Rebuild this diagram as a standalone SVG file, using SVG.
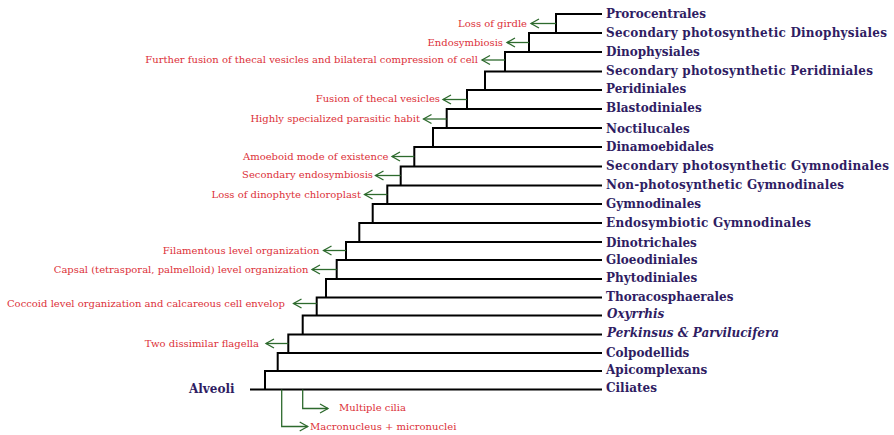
<svg xmlns="http://www.w3.org/2000/svg" width="894" height="435" viewBox="0 0 894 435">
<style>
.tx{font-family:"DejaVu Serif","Liberation Serif",serif;font-weight:bold;font-size:12px;fill:#2f1d63}
.it{font-style:italic}
.an{font-family:"DejaVu Serif","Liberation Serif",serif;font-size:10px;fill:#dc3038}
.tree{fill:none;stroke:#000;stroke-width:2}
.ar{fill:none;stroke:#2d6a2d;stroke-width:1.3;marker-end:url(#ah)}
</style>
<defs>
<marker id="ah" markerUnits="userSpaceOnUse" viewBox="-10 -6 12 12" refX="0" refY="0" markerWidth="12" markerHeight="12" orient="auto">
<path d="M-8,-4.5 L0,0 L-8,4.5" fill="none" stroke="#2d6a2d" stroke-width="1.3"/>
</marker>
</defs>
<rect width="894" height="435" fill="#fff"/>
<g id="connectors">
<path class="tree" d="M602 14H556V33 M602 33H529V52 M602 52H505V71.5 M602 71.5H485V90 M602 90H467V109 M602 109H446.7V128 M602 128H433V147 M602 147H414.3V166.5 M602 166.5H400.7V185.5 M602 185.5H387.3V204 M602 204H372.7V223 M602 223H359.3V242 M602 242H346V260 M602 260H336.7V279 M602 279H326V297.5 M602 297.5H316.7V315.5 M602 315.5H302.7V334.5 M602 334.5H288.3V353 M602 353H277.7V371 M602 371H265V389.5 M602 389.5H250"/>
</g>
<g id="annotations">
<path class="ar" d="M556 23.5H531"/><text class="an" x="527" y="26.5" text-anchor="end">Loss of girdle</text>
<path class="ar" d="M529 42.5H507"/><text class="an" x="503" y="45.5" text-anchor="end">Endosymbiosis</text>
<path class="ar" d="M505 60H482"/><text class="an" x="478" y="63" text-anchor="end">Further fusion of thecal vesicles and bilateral compression of cell</text>
<path class="ar" d="M467 99.5H443"/><text class="an" x="440" y="102" text-anchor="end">Fusion of thecal vesicles</text>
<path class="ar" d="M446.7 119H423.5"/><text class="an" x="420" y="122" text-anchor="end">Highly specialized parasitic habit</text>
<path class="ar" d="M414.3 156.5H392"/><text class="an" x="388.5" y="159.5" text-anchor="end">Amoeboid mode of existence</text>
<path class="ar" d="M400.7 175.5H375.5"/><text class="an" x="373" y="178" text-anchor="end">Secondary endosymbiosis</text>
<path class="ar" d="M387.3 194.5H364.5"/><text class="an" x="361" y="197.5" text-anchor="end">Loss of dinophyte chloroplast</text>
<path class="ar" d="M346 250.5H323.5"/><text class="an" x="319.5" y="253.5" text-anchor="end">Filamentous level organization</text>
<path class="ar" d="M336.7 269.5H312"/><text class="an" x="308.5" y="272.5" text-anchor="end">Capsal (tetrasporal, palmelloid) level organization</text>
<path class="ar" d="M316.7 303.5H293.5"/><text class="an" x="285" y="306.5" text-anchor="end">Coccoid level organization and calcareous cell envelop</text>
<path class="ar" d="M288.3 343.5H266"/><text class="an" x="259" y="346.5" text-anchor="end">Two dissimilar flagella</text>
<path class="ar" d="M302.7 389.5V408.5H328"/><text class="an" x="339" y="411">Multiple cilia</text>
<path class="ar" d="M281.7 389.5V426.5H307.7"/><text class="an" x="310" y="430">Macronucleus + micronuclei</text>
</g>
<g id="n-alveoli"><text class="tx" x="189" y="393">Alveoli</text></g>
<g id="n1"><text class="tx" x="606" y="17.5">Prorocentrales</text></g>
<g id="n2"><text class="tx" x="606" y="36.7" textLength="281" lengthAdjust="spacing">Secondary photosynthetic Dinophysiales</text></g>
<g id="n3"><text class="tx" x="606" y="56">Dinophysiales</text></g>
<g id="n4"><text class="tx" x="606" y="75" textLength="267" lengthAdjust="spacing">Secondary photosynthetic Peridiniales</text></g>
<g id="n5"><text class="tx" x="606" y="93.3">Peridiniales</text></g>
<g id="n6"><text class="tx" x="606" y="112.3">Blastodiniales</text></g>
<g id="n7"><text class="tx" x="606" y="133">Noctilucales</text></g>
<g id="n8"><text class="tx" x="606" y="150.7">Dinamoebidales</text></g>
<g id="n9"><text class="tx" x="606" y="170" textLength="283" lengthAdjust="spacing">Secondary photosynthetic Gymnodinales</text></g>
<g id="n10"><text class="tx" x="606" y="189" textLength="238" lengthAdjust="spacing">Non-photosynthetic Gymnodinales</text></g>
<g id="n11"><text class="tx" x="606" y="207.5">Gymnodinales</text></g>
<g id="n12"><text class="tx" x="606" y="226.7" textLength="205" lengthAdjust="spacing">Endosymbiotic Gymnodinales</text></g>
<g id="n13"><text class="tx" x="606" y="246.5">Dinotrichales</text></g>
<g id="n14"><text class="tx" x="606" y="264">Gloeodiniales</text></g>
<g id="n15"><text class="tx" x="606" y="281.7">Phytodiniales</text></g>
<g id="n16"><text class="tx" x="606" y="300.7">Thoracosphaerales</text></g>
<g id="n17"><text class="tx it" x="607" y="318.3">Oxyrrhis</text></g>
<g id="n18"><text class="tx it" x="607" y="337.3">Perkinsus &amp; Parvilucifera</text></g>
<g id="n19"><text class="tx" x="606" y="356.7">Colpodellids</text></g>
<g id="n20"><text class="tx" x="606" y="374">Apicomplexans</text></g>
<g id="n21"><text class="tx" x="606" y="391.7">Ciliates</text></g>
</svg>
